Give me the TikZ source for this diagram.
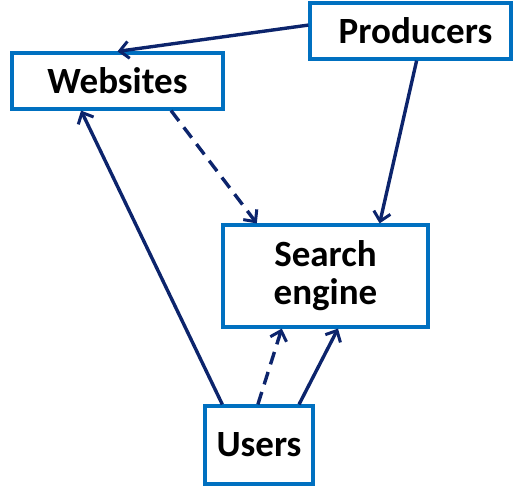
\documentclass[tikz,border=0pt]{standalone}
\usepackage{fontspec}
\setmainfont{Carlito}
\usetikzlibrary{arrows.meta,calc}
\definecolor{boxblue}{RGB}{0,112,192}
\definecolor{navy}{RGB}{12,36,108}
\tikzset{
  box/.style={draw=boxblue, line width=3.2pt, fill=white, inner sep=0pt, align=center,
    font=\fontsize{37}{38}\selectfont\bfseries},
  link/.style={draw=navy, line width=3.4pt, -{Straight Barb[length=9pt,width=17pt,line width=3pt]}},
  dlink/.style={link, dash pattern=on 13pt off 8pt},
}
\begin{document}
\begin{tikzpicture}[x=1pt,y=-1pt]
\useasboundingbox (0,0) rectangle (514,489);
\node[box, minimum width=201pt, minimum height=56pt] (prod) at (410.5,31) {\hspace*{10pt}Producers};
\node[box, minimum width=211pt, minimum height=56pt] (web) at (117.5,81) {Websites};
\node[box, minimum width=205pt, minimum height=102pt] (search) at (325.5,276) {Search\\engine};
\node[box, minimum width=108pt, minimum height=78pt] (users) at (259,445) {Users};

\draw[link] ($(prod.north west)!0.4!(prod.south west)$) -- (web.north);
\draw[link] ($(prod.south west)!0.53!(prod.south east)$) -- ($(search.north west)!0.76!(search.north east)$);
\draw[dlink] ($(web.south west)!0.75!(web.south east)$) -- ($(search.north west)!0.17!(search.north east)$);
\draw[link] ($(users.north west)!0.17!(users.north east)$) -- ($(web.south west)!0.33!(web.south east)$);
\draw[dlink] ($(users.north west)!0.49!(users.north east)$) -- ($(search.south west)!0.29!(search.south east)$);
\draw[link] ($(users.north west)!0.86!(users.north east)$) -- ($(search.south west)!0.56!(search.south east)$);
\end{tikzpicture}
\end{document}
